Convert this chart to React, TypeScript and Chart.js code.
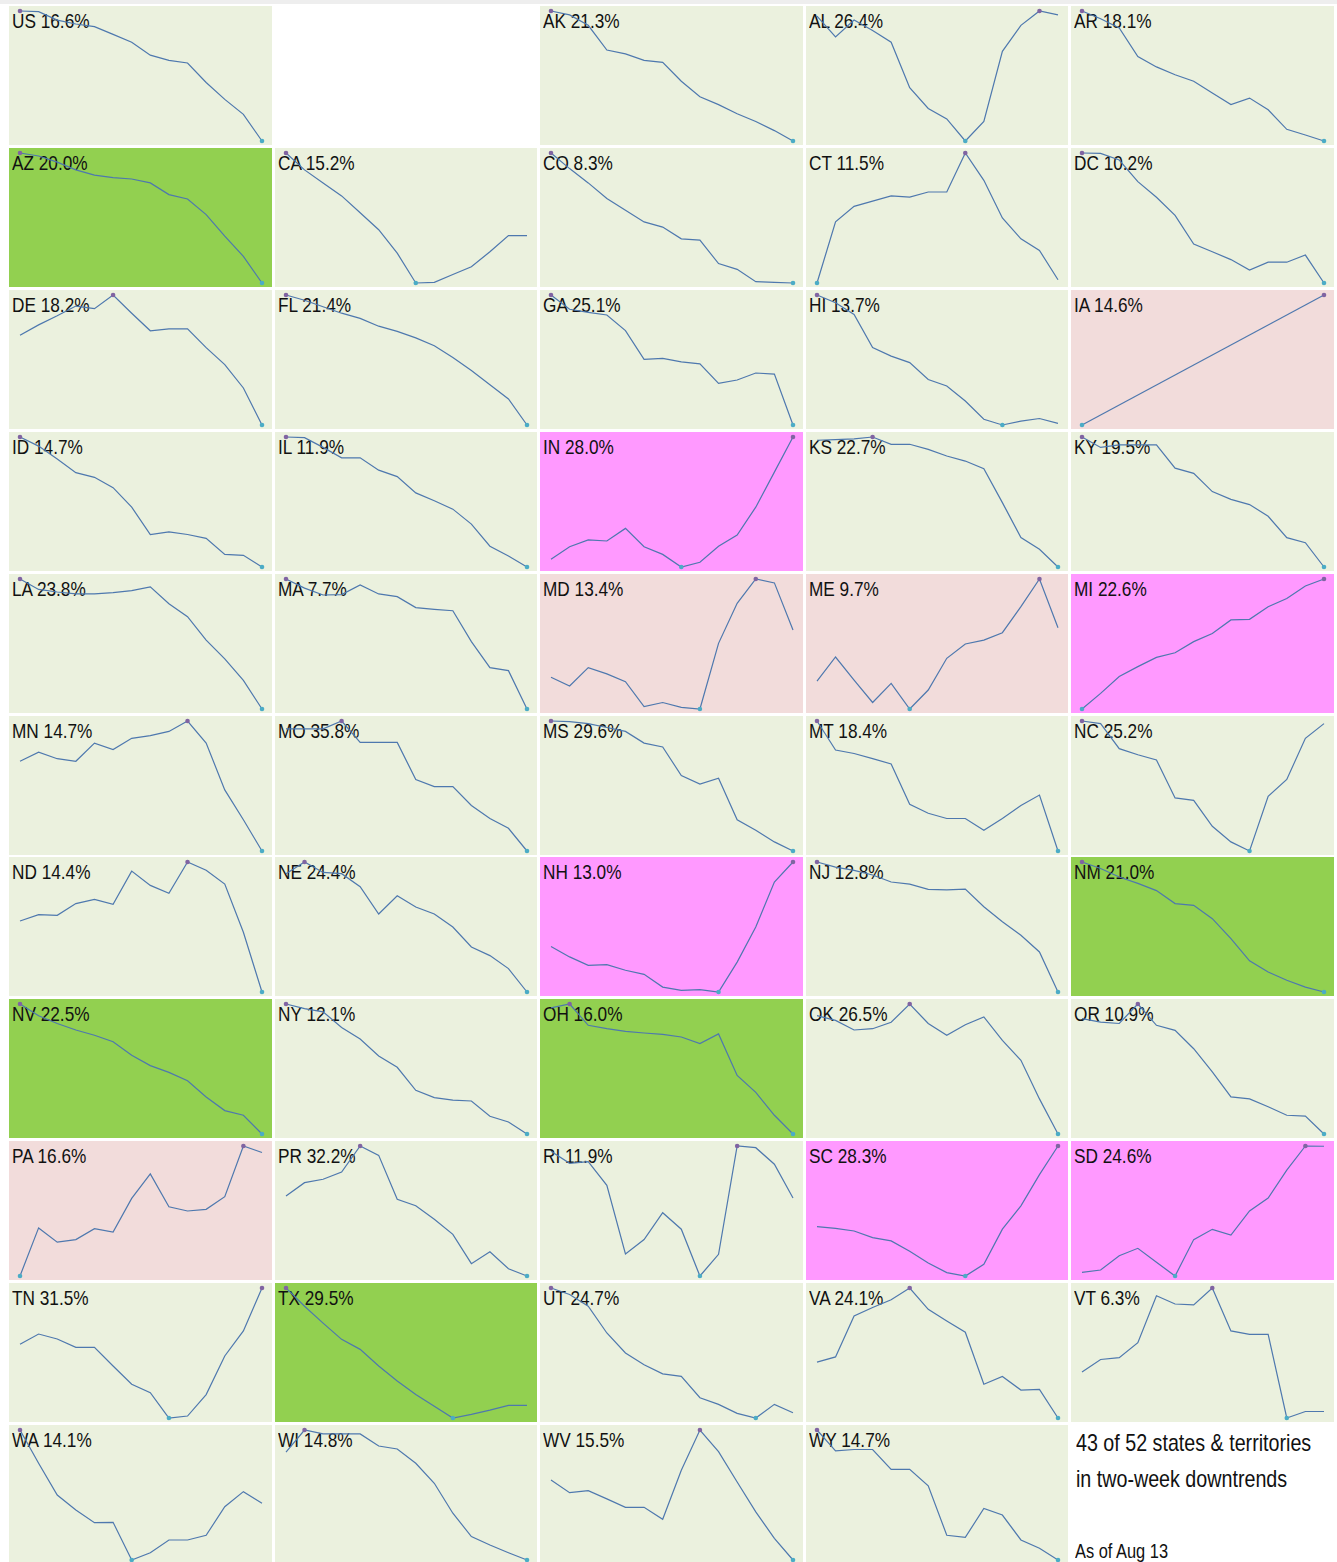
import React, { useEffect, useRef } from "react";
import { Chart, registerables } from "chart.js";
Chart.register(...registerables);

// 14 daily points, two weeks ending Aug 13
const days = ["Jul 31", "Aug 1", "Aug 2", "Aug 3", "Aug 4", "Aug 5", "Aug 6", "Aug 7", "Aug 8", "Aug 9", "Aug 10", "Aug 11", "Aug 12", "Aug 13"];

// Grid order (row by row, 5 per row); "" = empty cell, "NOTE" = text cell
const gridCodes = [
  "US", "", "AK", "AL", "AR",
  "AZ", "CA", "CO", "CT", "DC",
  "DE", "FL", "GA", "HI", "IA",
  "ID", "IL", "IN", "KS", "KY",
  "LA", "MA", "MD", "ME", "MI",
  "MN", "MO", "MS", "MT", "NC",
  "ND", "NE", "NH", "NJ", "NM",
  "NV", "NY", "OH", "OK", "OR",
  "PA", "PR", "RI", "SC", "SD",
  "TN", "TX", "UT", "VA", "VT",
  "WA", "WI", "WV", "WY", "NOTE",
];

// Latest positivity rate (%)
const latestRate: Record<string, number> = {
  US: 16.6, AK: 21.3, AL: 26.4, AR: 18.1, AZ: 20.0, CA: 15.2, CO: 8.3, CT: 11.5, DC: 10.2,
  DE: 18.2, FL: 21.4, GA: 25.1, HI: 13.7, IA: 14.6, ID: 14.7, IL: 11.9, IN: 28.0, KS: 22.7,
  KY: 19.5, LA: 23.8, MA: 7.7, MD: 13.4, ME: 9.7, MI: 22.6, MN: 14.7, MO: 35.8, MS: 29.6,
  MT: 18.4, NC: 25.2, ND: 14.4, NE: 24.4, NH: 13.0, NJ: 12.8, NM: 21.0, NV: 22.5, NY: 12.1,
  OH: 16.0, OK: 26.5, OR: 10.9, PA: 16.6, PR: 32.2, RI: 11.9, SC: 28.3, SD: 24.6, TN: 31.5,
  TX: 29.5, UT: 24.7, VA: 24.1, VT: 6.3, WA: 14.1, WI: 14.8, WV: 15.5, WY: 14.7,
};

// Trend categories (cell shading)
const strongDown = ["AZ", "NM", "NV", "OH", "TX"];
const strongUp = ["IN", "MI", "NH", "SC", "SD"];
const mildUp = ["IA", "MD", "ME", "PA"];

// Two-week trend, indexed within each state (0 = 2-week low, 100 = 2-week high)
const US = [100, 99.5, 93, 90, 88, 82, 76, 66, 62, 60, 45, 32, 20.5, 0];
const AK = [100, 97, 89, 70, 67, 62, 60.5, 46, 34, 28, 21, 15, 8, 0];
const AL = [96, 80, 93, 85, 76, 41, 25, 17, 0, 15, 69, 89, 100, 97];
const AR = [100, 94, 87, 65, 57, 51, 46, 37, 28, 33, 24, 9, 4.6, 0];
const AZ = [100, 97.7, 93, 87, 83, 81, 80, 77, 68, 64.6, 52.6, 36, 20.5, 0];
const CA = [100, 87, 77, 67, 54, 41, 23, 0, 0.5, 6.5, 12.5, 24, 36.5, 36.5];
const CO = [100, 88, 77, 65, 56, 47, 43, 34, 33, 15, 10.5, 1, 0.5, 0];
const CT = [0, 47, 59, 63, 67, 66, 70, 70, 100, 79, 50, 34, 25, 2.5];
const DC = [100, 99.7, 94.6, 78, 66, 52, 30, 24, 18, 10, 16, 16, 21.5, 0];
const DE = [69, 77, 84, 91.5, 89.5, 100, 86, 72.5, 74, 74, 59.5, 46.5, 28.5, 0];
const FL = [100, 96, 91, 86, 82, 76, 72, 67, 61, 52, 42, 31, 20, 0];
const GA = [100, 89, 86.7, 84.6, 72.6, 50.5, 51.3, 48.5, 47, 32, 34.6, 40, 39.2, 0];
const HI = [100, 94, 85, 59.5, 53, 48, 35, 30, 18.5, 4.4, 0, 3, 5, 1.3];
const IA = [0, null, null, null, null, null, null, null, null, null, null, null, null, 100];
const ID = [100, 93, 83, 72.6, 69, 61, 46, 25, 27, 25, 22, 9.7, 9, 0];
const IL = [100, 99.5, 92, 84, 84, 74.5, 69.5, 57, 51, 44.5, 33, 16, 8.5, 0];
const IN = [6, 15.6, 20.8, 20, 29.7, 15.6, 9.7, 0, 3.6, 16, 24.6, 46, 73, 100];
const KS = [97.5, 98, 98.5, 100, 94.4, 94.4, 90.5, 85.4, 81.5, 75.6, 49.5, 22.6, 13.6, 0];
const KY = [100, 92, 94, 94, 94, 76, 72, 58, 52, 48, 39, 22.6, 18.7, 0];
const LA = [100, 92, 90, 88.5, 88.5, 89.5, 91, 94, 81, 71, 53, 38.5, 22, 0];
const MA = [100, 93, 87.7, 88, 95.4, 88.5, 86.4, 78, 76.7, 75.6, 51.8, 31.8, 29.5, 0];
const MD = [24.4, 17.7, 31.8, 27, 21, 1.8, 5, 1.3, 0, 50.5, 81.3, 100, 97, 60.8];
const ME = [21.5, 40, 22.3, 5, 19.7, 0, 14.6, 39, 50, 53, 58.7, 78.7, 100, 62.5];
const MI = [0, 12, 25, 32.6, 39.7, 43.3, 51.8, 58, 68.5, 69, 78.7, 85, 94.6, 100];
const MN = [69, 76, 71, 69, 83, 78, 86.7, 88.7, 92, 100, 83, 47, 24, 0];
const MO = [94, 94, 94, 100, 83.5, 83.5, 83.5, 55, 49.5, 49.5, 35, 25, 17.5, 0];
const MS = [100, 99.5, 98, 95, 92, 83, 80, 58, 51.5, 56, 24, 16, 7, 0];
const MT = [100, 77.7, 75, 71, 67, 36, 29, 25, 25, 16, 25, 35, 43, 0];
const NC = [100, 98, 78.7, 74, 70, 40.8, 39, 19, 7, 0, 42, 55, 86.7, 98];
const ND = [54.6, 59.5, 59, 68, 71.3, 67.4, 93, 82, 76, 100, 93.6, 83, 46, 0];
const NE = [91, 100, 92, 91, 81, 60, 74, 65.4, 60, 50, 34.6, 28, 18, 0];
const NH = [35, 27, 20.5, 21, 16.7, 13.6, 3.8, 1.3, 1.8, 0, 23, 50, 84.6, 100];
const NJ = [100, 96, 93.6, 90, 84.6, 83, 79, 78.5, 79.2, 65.6, 54, 43.6, 30.8, 0];
const NM = [100, 95, 88.5, 83.6, 78, 68, 66.7, 56.4, 41, 24, 15.4, 9, 3.8, 0];
const NV = [100, 91, 85, 80, 76, 71, 60.5, 52.6, 47.4, 41, 28.5, 18, 14.4, 0];
const NY = [100, 96.4, 94, 82, 73, 60, 51.3, 33.6, 28, 26, 25.4, 13.6, 9.2, 0];
const OH = [97, 100, 83.6, 81, 79, 77.7, 76.7, 74.6, 69.5, 77, 45, 32, 14.4, 0];
const OK = [91, 87.4, 80, 81, 86, 100, 85, 76, 84, 90, 72, 56.7, 27, 0];
const OR = [88.7, 86, 85, 100, 83.6, 79.7, 65.6, 47.7, 28.5, 27, 21, 14.4, 13.8, 0];
const PA = [0, 37, 26, 28, 36.4, 33.8, 59.7, 78.5, 53.3, 50, 51.3, 61, 100, 95];
const PR = [61.5, 71.8, 74.4, 80, 100, 92.8, 59, 54, 43.6, 32, 9.5, 18.7, 5.6, 0];
const RI = [96, 86.7, 88, 69.7, 17, 28, 48.7, 36, 0, 16.7, 100, 98.7, 86, 60];
const SC = [38, 36.7, 34.6, 29.5, 27, 19, 10, 2.6, 0, 9, 36, 54, 78, 100];
const SD = [2.8, 4.6, 15.6, 21.3, 10.5, 0, 28, 35.9, 31.5, 50, 60, 81.5, 100, 99.8];
const TN = [56.7, 64.6, 60.8, 54.4, 54.4, 40, 26, 19.5, 0, 1.5, 18, 47.7, 67, 100];
const TX = [100, 86, 73, 60.5, 52.8, 40, 28.5, 18, 9, 0, 2.8, 6, 9.7, 9.7];
const UT = [100, 95, 86, 65.4, 50, 41, 34, 32, 15.6, 10.5, 3.6, 0, 10.5, 4];
const VA = [43, 47, 78.5, 85, 91, 100, 83.6, 74.6, 66, 26, 32, 21.5, 22, 0];
const VT = [35.4, 45, 46.4, 58, 94, 87.7, 87, 100, 67, 64.4, 64.4, 0, 5, 5];
const WA = [100, 74.4, 50, 38.5, 28.7, 29, 0, 5.6, 15.4, 15.4, 19, 41, 52.6, 43.6];
const WI = [83, 100, 97, 97, 97, 87.7, 85.4, 74.4, 59, 36, 18, 11.5, 5.6, 0];
const WV = [61.5, 51.8, 53.3, 47, 40.5, 40.5, 31.3, 69, 100, 83.3, 60, 37, 16.7, 0];
const WY = [100, 84, 85, 85, 69.7, 69.7, 57, 19, 17.4, 39.7, 34.6, 15.4, 9, 0];

const noteLines = ["43 of 52 states & territories", "in two-week downtrends"];
const noteDate = "As of Aug 13";

const series: Record<string, (number | null)[]> = {
  US, AK, AL, AR, AZ, CA, CO, CT, DC, DE, FL, GA, HI, IA, ID, IL, IN, KS, KY, LA, MA, MD, ME, MI,
  MN, MO, MS, MT, NC, ND, NE, NH, NJ, NM, NV, NY, OH, OK, OR, PA, PR, RI, SC, SD, TN, TX, UT, VA,
  VT, WA, WI, WV, WY,
};

const FONT = '"Liberation Sans", Arial, sans-serif';
const NARROW: React.CSSProperties = { display: "inline-block", transform: "scaleX(0.82)", transformOrigin: "0 0" };
const LINE_COLOR = "#4e78ae";
const MAX_COLOR = "#8064A2";
const MIN_COLOR = "#4BACC6";

function bgFor(code: string) {
  if (strongDown.includes(code)) return "#92D050";
  if (strongUp.includes(code)) return "#FF99FF";
  if (mildUp.includes(code)) return "#F2DCDB";
  return "#EBF1DE";
}

function Spark({ data, w, h }: { data: (number | null)[]; w: number; h: number }) {
  const ref = useRef<HTMLCanvasElement>(null);
  useEffect(() => {
    if (!ref.current) return;
    const vals = data.filter((v) => v !== null) as number[];
    const max = Math.max(...vals);
    const min = Math.min(...vals);
    const iMax = data.indexOf(max);
    const iMin = data.indexOf(min);
    const radius = data.map((_, i) => (i === iMax || i === iMin ? 2.3 : 0));
    const colors = data.map((_, i) => (i === iMax ? MAX_COLOR : MIN_COLOR));
    const chart = new Chart(ref.current, {
      type: "line",
      data: {
        labels: days,
        datasets: [
          {
            data,
            borderColor: LINE_COLOR,
            borderWidth: 1.2,
            pointRadius: radius,
            pointBackgroundColor: colors,
            pointBorderColor: colors,
            pointBorderWidth: 0,
            spanGaps: true,
            tension: 0,
            clip: false,
          } as any,
        ],
      },
      options: {
        animation: false,
        responsive: false,
        devicePixelRatio: 1,
        events: [],
        layout: { padding: { left: 11, right: 10, top: 5, bottom: 4 } },
        scales: {
          x: { display: false, offset: false },
          y: { display: false, min, max },
        },
        plugins: { legend: { display: false }, tooltip: { enabled: false }, title: { display: false } },
      },
    });
    return () => chart.destroy();
  }, [data, w, h]);
  return (
    <canvas
      ref={ref}
      width={w}
      height={h}
      style={{ position: "absolute", left: 0, top: 0, width: w, height: h }}
    />
  );
}

export default function App() {
  const colPitch = 265.6;
  const rowPitch = 141.9;
  const cells = gridCodes.map((code, idx) => {
    const r = Math.floor(idx / 5);
    const c = idx % 5;
    const left = Math.round(9 + c * colPitch);
    const right = Math.round(9 + (c + 1) * colPitch - 3);
    const top = Math.round(6 + r * rowPitch);
    const bottom = Math.round(6 + (r + 1) * rowPitch - 2.9);
    const w = right - left;
    const h = bottom - top;
    if (code === "") return null;
    if (code === "NOTE") {
      return (
        <div key={idx} style={{ position: "absolute", left, top, width: w, height: h, background: "#fff", fontFamily: FONT, color: "#111" }}>
          <div style={{ position: "absolute", left: 5, top: 0, fontSize: 24, lineHeight: "36px", whiteSpace: "nowrap" }}>
            {noteLines.map((l, i) => (
              <div key={i}><span style={NARROW}>{l}</span></div>
            ))}
          </div>
          <div style={{ position: "absolute", left: 4, top: 114, fontSize: 20, lineHeight: "24px", whiteSpace: "nowrap" }}>
            <span style={NARROW}>{noteDate}</span>
          </div>
        </div>
      );
    }
    return (
      <div key={idx} style={{ position: "absolute", left, top, width: w, height: h, background: bgFor(code), overflow: "hidden" }}>
        <div style={{ position: "absolute", left: 3, top: 3, fontFamily: FONT, fontSize: 21, lineHeight: "24px", color: "#111", whiteSpace: "nowrap" }}>
          <span style={NARROW}>{`${code} ${latestRate[code].toFixed(1)}%`}</span>
        </div>
        <Spark data={series[code]} w={w} h={h} />
      </div>
    );
  });
  return (
    <div style={{ position: "absolute", left: 0, top: 0, width: 1337, height: 1562, background: "#fff", overflow: "hidden" }}>
      <div style={{ position: "absolute", left: 0, top: 0, width: 1337, height: 4, background: "#eeeeee" }} />
      {cells}
    </div>
  );
}
